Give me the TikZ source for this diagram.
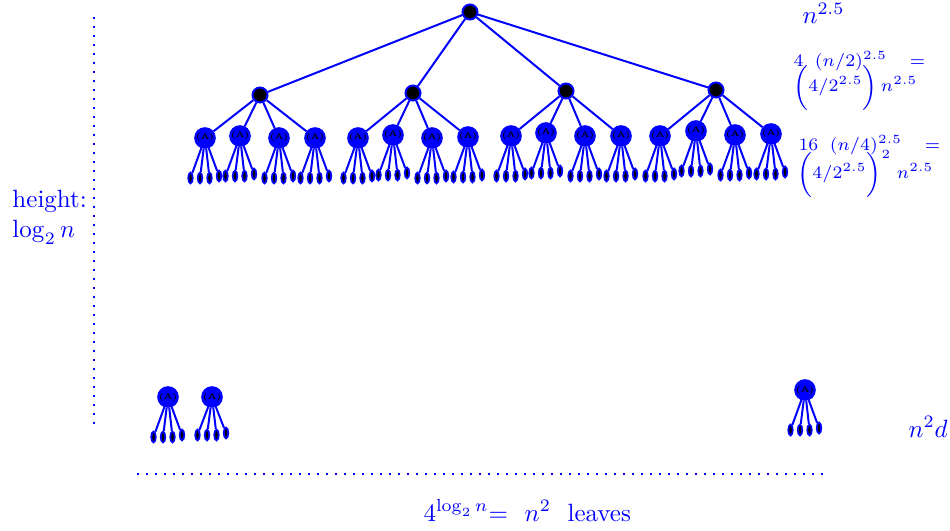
\documentclass[tikz,border=0pt]{standalone}
\usetikzlibrary{shapes.geometric}
\begin{document}
\begin{tikzpicture}[x=0.4pt,y=-0.4pt,
  bignode/.style={circle,draw=blue,fill=black,line width=0.8pt,minimum size=6pt,inner sep=0pt},
  midnode/.style={circle,draw=blue,fill=blue,line width=0.6pt,minimum size=5.6pt,inner sep=0pt,font=\fontsize{3.2}{3.4}\selectfont\bfseries,text=black},
  leafnode/.style={ellipse,draw=blue,fill=black,line width=0.7pt,minimum width=1.8pt,minimum height=4.4pt,inner sep=0pt},
  edge/.style={blue,line width=0.8pt},
  lbl/.style={text=blue,inner sep=0pt,anchor=base west},
  dots/.style={blue,line width=0.9pt,dash pattern=on 0.9pt off 2.7pt}
]
\useasboundingbox (0,0) rectangle (950,531);
% root and first level
\node[bignode] (r) at (470,12) {};
\foreach \i/\x/\y in {1/260/95,2/413/93,3/566/91,4/716/90}{
  \node[bignode] (a\i) at (\x,\y) {};
  \draw[edge] (r) -- (a\i);
}
% second level and leaves
\foreach \i/\j/\x/\y in {1/1/205/138,1/2/240/136,1/3/279/138,1/4/315/138,
                         2/1/358/138,2/2/393/135,2/3/432/138,2/4/468/137,
                         3/1/511/136,3/2/546/133,3/3/585/136,3/4/621/136,
                         4/1/660/136,4/2/696/131,4/3/735/135,4/4/771/134}{
  \node[midnode] (b\i\j) at (\x,\y) {(A)};
  \draw[edge] (a\i) -- (b\i\j);
  \foreach \k/\dx/\dy in {1/-14.5/40,2/-5/40,3/4.5/40,4/14/38}{
    \node[leafnode] (c\i\j\k) at (\x+\dx,\y+\dy) {};
    \draw[edge] (b\i\j) -- (c\i\j\k);
  }
}
% bottom subtrees
\foreach \n/\x/\y/\ly in {1/168/397/40,2/212/397/38,3/805/390/40}{
  \node[midnode] (d\n) at (\x,\y) {(A)};
  \foreach \k/\dx/\dy in {1/-14.5/0,2/-5/0,3/4.5/0,4/14/-2}{
    \node[leafnode] (e\n\k) at (\x+\dx,\y+\ly+\dy) {};
    \draw[edge] (d\n) -- (e\n\k);
  }
}
% dotted guides
\coordinate (vt) at (94,17);
\coordinate (vb) at (94,428);
\draw[dots] (vt) -- (vb);
\coordinate (hl) at (137,474);
\coordinate (hr) at (823,474);
\draw[dots] (hl) -- (hr);
% labels
\node[lbl] (t1) at (12,208) {height:};
\node[lbl] (t2) at (12,238) {$\log_2 n$};
\node[lbl] (t3) at (802,24) {$n^{2.5}$};
\node[lbl,font=\scriptsize] (t4) at (793,67) {$4\;\;(n/2)^{2.5}\;\;\;=$};
\node[lbl,font=\scriptsize] (t5) at (793,92) {$\bigl(4/2^{2.5}\bigr)\,n^{2.5}$};
\node[lbl,font=\scriptsize] (t6) at (798,151) {$16\;\;(n/4)^{2.5}\;\;\;=$};
\node[lbl,font=\scriptsize] (t7) at (797,179) {$\bigl(4/2^{2.5}\bigr)^2\;n^{2.5}$};
\node[lbl] (t8) at (908,437) {$n^2d$};
\node[lbl] (t9) at (423,521) {$4^{\log_2 n}{=}\ \ n^2$\ \ leaves};
\end{tikzpicture}
\end{document}
